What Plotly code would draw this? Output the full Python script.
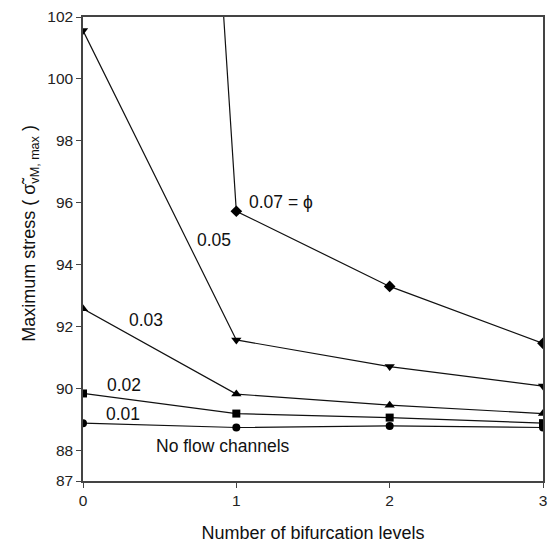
import plotly.graph_objects as go

levels = [0, 1, 2, 3]
phi_labels = ["0.01", "0.02", "0.03", "0.05", "0.07"]
s001 = [88.87, 88.73, 88.78, 88.73]
s002 = [89.83, 89.18, 89.05, 88.87]
s003 = [92.57, 89.81, 89.45, 89.18]
s005 = [101.56, 91.56, 90.7, 90.07]
s007 = [172.0, 95.72, 93.29, 91.45]

series = [s001, s002, s003, s005, s007]
symbols = ["circle", "square", "triangle-up", "triangle-down", "diamond"]
sizes = [8, 8, 9, 9, 9]

fig = go.Figure()
for lab, ys, sym, sz in zip(phi_labels, series, symbols, sizes):
    fig.add_trace(go.Scatter(
        x=levels, y=ys, mode="lines+markers", name=lab,
        line=dict(color="#111111", width=1.2),
        marker=dict(symbol=sym, size=sz, color="black"),
        showlegend=False,
    ))

font = dict(family="Liberation Sans, Arial, sans-serif", size=17.5, color="#111111")
title_font = dict(family="Liberation Sans, Arial, sans-serif", size=18, color="#111111")

annotations = [
    dict(x=1.07, y=96.03, text="0.07 = \u03d5"),
    dict(x=0.73, y=94.79, text="0.05"),
    dict(x=0.29, y=92.2, text="0.03"),
    dict(x=0.146, y=90.1, text="0.02"),
    dict(x=0.14, y=89.16, text="0.01"),
    dict(x=0.465, y=88.14, text="No flow channels"),
]
for a in annotations:
    fig.add_annotation(x=a["x"], y=a["y"], text=a["text"], xanchor="left",
                       yanchor="middle", showarrow=False, font=font)

fig.add_annotation(
    xref="paper", yref="paper", x=-0.114, y=0.534,
    text="Maximum stress ( \u03c3\u0303<sub>vM, max</sub> )",
    textangle=-90, showarrow=False, font=title_font,
    xanchor="center", yanchor="middle",
)

axis_common = dict(
    showgrid=False, zeroline=False, showline=True, linecolor="#444444",
    linewidth=1.5, mirror=True, ticks="outside", ticklen=5, tickcolor="#444444",
    tickfont=dict(family="Liberation Sans, Arial, sans-serif", size=15.5, color="#222222"),
    ticklabeloverflow="allow",
)

fig.update_xaxes(range=[0, 3], tickvals=[0, 1, 2, 3], **axis_common,
                 title=dict(text="Number of bifurcation levels", font=title_font, standoff=18))
fig.update_yaxes(range=[87, 102], tickvals=[87, 88, 90, 92, 94, 96, 98, 100, 102],
                 **axis_common)

fig.update_layout(
    width=549, height=543,
    margin=dict(l=83, r=2, t=17, b=62),
    paper_bgcolor="white", plot_bgcolor="white",
)

fig.write_html("out.html")
